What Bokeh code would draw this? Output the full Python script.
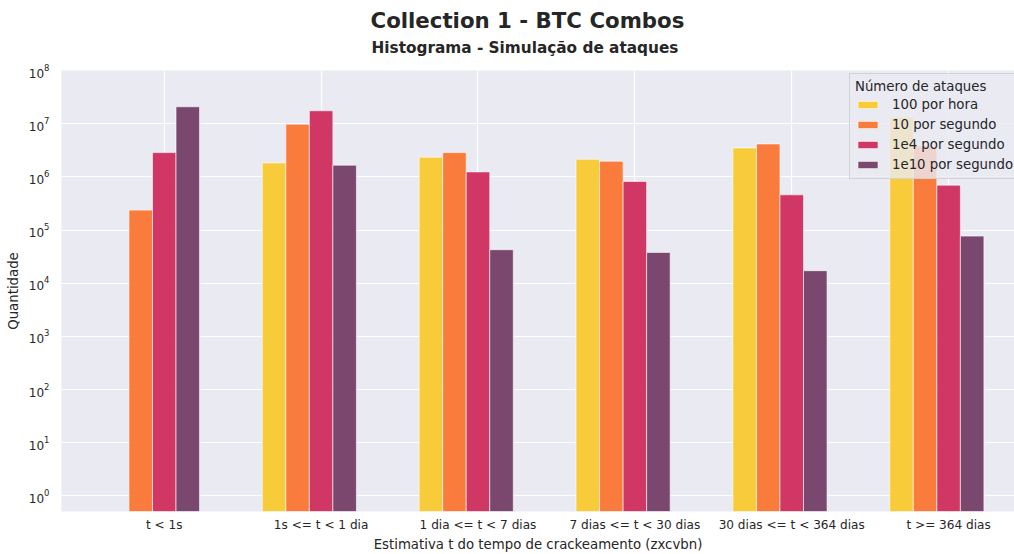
from bokeh.plotting import figure
from bokeh.models import (ColumnDataSource, Range1d, FixedTicker, Legend, LegendItem,
                          Title, LogTicker)
from bokeh.embed import file_html
from bokeh.resources import INLINE

# Crack-time buckets (zxcvbn estimate)
categories = ["t < 1s", "1s <= t < 1 dia", "1 dia <= t < 7 dias",
              "7 dias <= t < 30 dias", "30 dias <= t < 364 dias", "t >= 364 dias"]

# Number of passwords per bucket, one list per attack rate
por_hora_100 = [0, 1.83e6, 2.34e6, 2.15e6, 3.5e6, 1.33e7]
por_seg_10 = [2.37e5, 9.8e6, 2.86e6, 1.97e6, 4.16e6, 3.8e6]
por_seg_1e4 = [2.86e6, 1.75e7, 1.24e6, 8.2e5, 4.6e5, 6.98e5]
por_seg_1e10 = [2.08e7, 1.66e6, 4.27e4, 3.8e4, 1.72e4, 7.7e4]

series_names = ["100 por hora", "10 por segundo", "1e4 por segundo", "1e10 por segundo"]
series_values = [por_hora_100, por_seg_10, por_seg_1e4, por_seg_1e10]
series_colors = ["#f9c92f", "#fb7632", "#cf2d5d", "#743f66"]

FONT = "DejaVu Sans"
TXT = "#262626"
BAR_W = 0.15

p = figure(width=1014, height=554, y_axis_type="log",
           x_range=Range1d(-0.655, 5.42), y_range=Range1d(0.51, 1e8),
           output_backend="svg", toolbar_location=None,
           background_fill_color="#eaeaf2", border_fill_color="white",
           min_border_left=61, min_border_right=0, min_border_bottom=30,
           min_border_top=70)
p.outline_line_color = None

# Titles: later additions go further from the frame
p.add_layout(Title(text="Histograma - Simulação de ataques", align="left",
                   text_font=FONT, text_font_size="15.3px", text_font_style="bold",
                   text_color=TXT, offset=310, standoff=28), "above")
p.add_layout(Title(text="Collection 1 - BTC Combos", align="left",
                   text_font=FONT, text_font_size="21.3px", text_font_style="bold",
                   text_color=TXT, offset=309, standoff=-21), "above")

items = []
for i, (name, vals, col) in enumerate(zip(series_names, series_values, series_colors)):
    xs = [k + (i - 2) * BAR_W for k, v in enumerate(vals) if v > 0]
    tops = [v for v in vals if v > 0]
    src = ColumnDataSource(dict(x=xs, top=tops))
    r = p.vbar(x="x", top="top", bottom=1e-3, width=BAR_W, source=src,
               fill_color=col, fill_alpha=0.95, line_color="white",
               line_alpha=0.6, line_width=1)
    items.append(LegendItem(label=name, renderers=[r]))

legend = Legend(items=items, title="Número de ataques", location=(788, 332),
                label_text_font=FONT, label_text_font_size="13.3px",
                label_text_color=TXT, title_text_font=FONT,
                title_text_font_size="13.3px", title_text_color=TXT,
                title_text_font_style="normal", title_standoff=1,
                background_fill_color="#eaeaf2", background_fill_alpha=0.8,
                border_line_color="#cccccc", border_line_alpha=0.8,
                glyph_width=25, glyph_height=9, label_height=18, spacing=2,
                padding=5, label_standoff=12, margin=0)
p.add_layout(legend, "center")

# Axes
p.xaxis.ticker = FixedTicker(ticks=list(range(len(categories))))
p.xaxis.major_label_overrides = {i: c for i, c in enumerate(categories)}
p.yaxis.ticker = LogTicker(desired_num_ticks=10, mantissas=[1])
for ax in (p.xaxis[0], p.yaxis[0]):
    ax.axis_line_color = None
    ax.major_tick_line_color = None
    ax.minor_tick_line_color = None
    ax.major_label_text_font = FONT
    ax.major_label_text_font_size = "12.1px"
    ax.major_label_text_color = TXT
    ax.axis_label_text_font = FONT
    ax.axis_label_text_font_size = "13.3px"
    ax.axis_label_text_font_style = "normal"
    ax.axis_label_text_color = TXT
p.xaxis.axis_label = "Estimativa t do tempo de crackeamento (zxcvbn)"
p.yaxis.axis_label = "Quantidade"
p.xaxis.major_label_standoff = 0
p.xaxis.axis_label_standoff = 2
p.yaxis.major_label_standoff = 6

p.xgrid.grid_line_color = "white"
p.ygrid.grid_line_color = "white"
p.xgrid.grid_line_width = 1.2
p.ygrid.grid_line_width = 1.2
p.ygrid.minor_grid_line_color = None

open("out.html", "w").write(file_html(p, INLINE))
